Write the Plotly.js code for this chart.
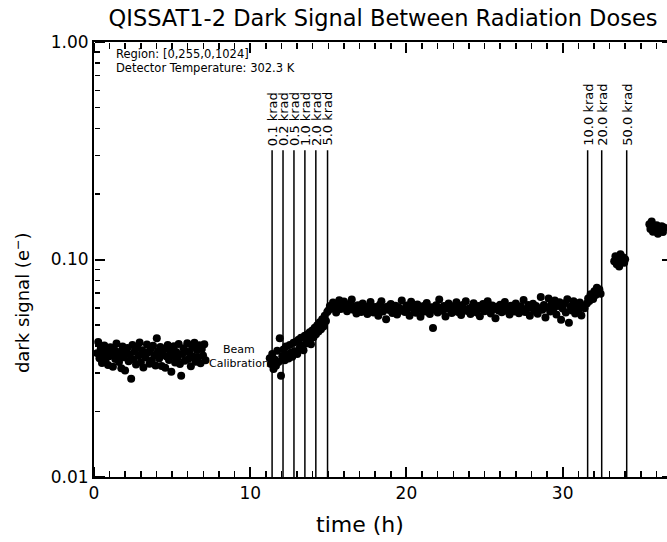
<!DOCTYPE html>
<html>
<head>
<meta charset="utf-8">
<script src="https://cdn.plot.ly/plotly-3.0.1.min.js"></script>
<style>html,body{margin:0;padding:0;overflow:hidden;background:#fff;}</style>
</head>
<body>
<div id="chart"></div>
<script>
// ---- data ----
const seg1T = [0.20,0.27,0.35,0.43,0.51,0.58,0.66,0.74,0.82,0.90,
0.97,1.05,1.13,1.21,1.29,1.36,1.44,1.52,1.60,1.68,
1.75,1.83,1.91,1.99,2.07,2.14,2.22,2.30,2.38,2.46,
2.53,2.61,2.69,2.77,2.85,2.92,3.00,3.08,3.16,3.24,
3.31,3.39,3.47,3.55,3.63,3.70,3.78,3.86,3.94,4.02,
4.09,4.17,4.25,4.33,4.41,4.48,4.56,4.64,4.72,4.80,
4.87,4.95,5.03,5.11,5.19,5.26,5.34,5.42,5.50,5.58,
5.65,5.73,5.81,5.89,5.97,6.04,6.12,6.20,6.28,6.36,
6.43,6.51,6.59,6.67,6.75,6.82,6.90,6.98,7.06,7.14];
const seg1V = [0.0371,0.0418,0.0352,0.0389,0.0334,0.0365,0.0402,0.0346,0.0381,0.0327,
0.0359,0.0395,0.0372,0.0321,0.0386,0.0349,0.0411,0.0363,0.0338,0.0377,
0.0316,0.0398,0.0355,0.0309,0.0374,0.0392,0.0341,0.0366,0.0283,0.0404,
0.0348,0.0379,0.0329,0.0393,0.0361,0.0415,0.0337,0.0383,0.0319,0.0369,
0.0354,0.0407,0.0375,0.0332,0.0388,0.0343,0.0401,0.0362,0.0326,0.0434,
0.0378,0.0351,0.0396,0.0324,0.0367,0.0387,0.0318,0.0358,0.0405,0.0345,
0.0382,0.0305,0.0361,0.0399,0.0336,0.0376,0.0353,0.0409,0.0331,0.0292,
0.0368,0.0391,0.0342,0.0379,0.0412,0.0349,0.0373,0.0323,0.0397,0.0357,
0.0414,0.0339,0.0384,0.0356,0.0403,0.0333,0.0388,0.0362,0.0408,0.0344];

const seg2T = [11.25,11.33,11.41,11.49,11.57,11.65,11.73,11.81,11.89,11.97,
12.05,12.13,12.21,12.29,12.37,12.45,12.53,12.61,12.69,12.77,
12.85,12.93,13.01,13.09,13.17,13.25,13.33,13.41,13.49,13.57,
13.65,13.73,13.81,13.89,13.97,14.05,14.13,14.21,14.29,14.37,
14.45,14.53,14.61,14.69,14.77,14.85,14.93];
const seg2V = [0.0352,0.0331,0.0368,0.0314,0.0347,0.0325,0.0381,0.0338,0.0435,0.0292,
0.0359,0.0386,0.0344,0.0398,0.0367,0.0351,0.0405,0.0373,0.0357,0.0414,
0.0379,0.0419,0.0368,0.0428,0.0392,0.0437,0.0401,0.0383,0.0446,0.0411,
0.0452,0.0424,0.0463,0.0408,0.0471,0.0439,0.0486,0.0453,0.0498,0.0467,
0.0515,0.0478,0.0531,0.0492,0.0552,0.0521,0.0574];

const seg3T = [15.0,15.1,15.2,15.3,15.4,15.5,15.6,15.7,15.8,15.9,
16.0,16.1,16.2,16.3,16.4,16.5,16.6,16.7,16.8,16.9,
17.0,17.1,17.2,17.3,17.4,17.5,17.6,17.7,17.8,17.9,
18.0,18.1,18.2,18.3,18.4,18.5,18.6,18.7,18.8,18.9,
19.0,19.1,19.2,19.3,19.4,19.5,19.6,19.7,19.8,19.9,
20.0,20.1,20.2,20.3,20.4,20.5,20.6,20.7,20.8,20.9,
21.0,21.1,21.2,21.3,21.4,21.5,21.6,21.7,21.8,21.9,
22.0,22.1,22.2,22.3,22.4,22.5,22.6,22.7,22.8,22.9,
23.0,23.1,23.2,23.3,23.4,23.5,23.6,23.7,23.8,23.9,
24.0,24.1,24.2,24.3,24.4,24.5,24.6,24.7,24.8,24.9,
25.0,25.1,25.2,25.3,25.4,25.5,25.6,25.7,25.8,25.9,
26.0,26.1,26.2,26.3,26.4,26.5,26.6,26.7,26.8,26.9,
27.0,27.1,27.2,27.3,27.4,27.5,27.6,27.7,27.8,27.9,
28.0,28.1,28.2,28.3,28.4,28.5,28.6,28.7,28.8,28.9,
29.0,29.1,29.2,29.3,29.4,29.5,29.6,29.7,29.8,29.9,
30.0,30.1,30.2,30.3,30.4,30.5,30.6,30.7,30.8,30.9,
31.0,31.1,31.2,31.3,31.4];
const seg3V = [0.0583,0.0612,0.0597,0.0634,0.0605,0.0571,0.0626,0.0649,0.0592,0.0618,
0.0641,0.0601,0.0578,0.0623,0.0596,0.0655,0.0587,0.0609,0.0564,0.0616,
0.0593,0.0574,0.0628,0.0601,0.0585,0.0562,0.0611,0.0637,0.0596,0.0571,
0.0604,0.0589,0.0552,0.0619,0.0643,0.0577,0.0598,0.0531,0.0608,0.0586,
0.0625,0.0567,0.0594,0.0613,0.0558,0.0601,0.0582,0.0648,0.0591,0.0573,
0.0614,0.0596,0.0551,0.0639,0.0605,0.0583,0.0569,0.0621,0.0599,0.0545,
0.0587,0.0612,0.0576,0.0631,0.0594,0.0562,0.0603,0.0484,0.0588,0.0616,
0.0571,0.0654,0.0598,0.0582,0.0611,0.0547,0.0593,0.0627,0.0604,0.0568,
0.0609,0.0585,0.0636,0.0574,0.0597,0.0556,0.0618,0.0589,0.0642,0.0579,
0.0594,0.0561,0.0607,0.0629,0.0583,0.0571,0.0612,0.0548,0.0596,0.0624,
0.0578,0.0601,0.0643,0.0589,0.0565,0.0614,0.0592,0.0537,0.0606,0.0583,
0.0619,0.0572,0.0595,0.0638,0.0581,0.0604,0.0558,0.0613,0.0591,0.0576,
0.0628,0.0597,0.0566,0.0609,0.0585,0.0651,0.0573,0.0594,0.0617,0.0552,
0.0598,0.0626,0.0579,0.0612,0.0563,0.0595,0.0673,0.0587,0.0618,0.0541,
0.0603,0.0661,0.0577,0.0624,0.0592,0.0648,0.0559,0.0611,0.0636,0.0529,
0.0596,0.0628,0.0571,0.0657,0.0512,0.0608,0.0583,0.0642,0.0565,0.0619,
0.0581,0.0634,0.0553,0.0611,0.0597];

const seg4T = [31.55,31.63,31.71,31.79,31.87,31.95,32.03,32.11,32.19,32.27,32.35,32.43];
const seg4V = [0.0628,0.0661,0.0645,0.0692,0.0673,0.0658,0.0714,0.0686,0.0741,0.0702,0.0728,0.0695];

const seg5T = [33.30,33.38,33.46,33.54,33.62,33.70,33.78,33.86,33.94,34.00];
const seg5V = [0.0982,0.1035,0.0951,0.1012,0.0928,0.1058,0.0995,0.1024,0.0967,0.1003];

const seg6T = [35.55,35.62,35.70,35.78,35.86,35.94,36.02,36.10,36.18,36.26,36.34,36.42,36.50];
const seg6V = [0.1452,0.1381,0.1497,0.1342,0.1418,0.1365,0.1436,0.1312,0.1394,0.1358,0.1421,0.1337,0.1402];

const doseT = [11.4, 12.1, 12.8, 13.5, 14.2, 14.95, 31.6, 32.5, 34.1];
const doseLabels = ['0.1 krad','0.2 krad','0.5 krad','1.0 krad','2.0 krad','5.0 krad','10.0 krad','20.0 krad','50.0 krad'];

const yTickVals = [0.01, 0.1, 1.0];
const yTickText = ['0.01', '0.10', '1.00'];
const yMinorVals = [0.02,0.03,0.04,0.05,0.06,0.07,0.08,0.09,0.2,0.3,0.4,0.5,0.6,0.7,0.8,0.9];

const titleText = 'QISSAT1-2 Dark Signal Between Radiation Doses';
const xTitleText = 'time (h)';
const yTitleText = 'dark signal (e<sup>−</sup>)';
const infoLines = ['Region: [0,255,0,1024]', 'Detector Temperature: 302.3 K'];
const beamText = 'Beam<br>Calibration';
const beamPos = {t: 9.3, v: 0.0357};

// ---- build ----
const xRange = [0, 37], yRange = [-2, 0];
const lineTop = 0.318, lineBottom = 0.01;
const traces = [];
doseT.forEach(function (t) {
  traces.push({x: [t, t], y: [lineBottom, lineTop], mode: 'lines', type: 'scatter',
    line: {color: 'black', width: 1.5}, hoverinfo: 'skip', showlegend: false});
});
const allT = [].concat(seg1T, seg2T, seg3T, seg4T, seg5T, seg6T);
const allV = [].concat(seg1V, seg2V, seg3V, seg4V, seg5V, seg6V);
traces.push({x: allT, y: allV, mode: 'markers', type: 'scatter',
  marker: {color: 'black', size: 8}, showlegend: false});
// empty traces that carry the inward-pointing tick axes
traces.push({x: [], y: [], xaxis: 'x2', yaxis: 'y2', type: 'scatter', mode: 'markers', showlegend: false, hoverinfo: 'skip'});
traces.push({x: [], y: [], xaxis: 'x3', yaxis: 'y3', type: 'scatter', mode: 'markers', showlegend: false, hoverinfo: 'skip'});

const annotations = [];
doseT.forEach(function (t, i) {
  annotations.push({x: t, y: Math.log10(lineTop) + 0.01, xref: 'x', yref: 'y',
    text: doseLabels[i], showarrow: false, textangle: -90,
    xanchor: 'center', yanchor: 'bottom', font: {size: 13, color: 'black'}});
});
annotations.push({x: 1.31, y: -0.055, xref: 'x', yref: 'y', text: infoLines[0],
  showarrow: false, xanchor: 'left', yanchor: 'middle', font: {size: 11.5}});
annotations.push({x: 1.31, y: -0.120, xref: 'x', yref: 'y', text: infoLines[1],
  showarrow: false, xanchor: 'left', yanchor: 'middle', font: {size: 11.5}});
annotations.push({x: beamPos.t, y: Math.log10(beamPos.v), xref: 'x', yref: 'y', text: beamText,
  showarrow: false, xanchor: 'center', yanchor: 'middle', align: 'center', font: {size: 11}});
annotations.push({x: 0.46, y: -0.110, xref: 'paper', yref: 'paper', text: xTitleText,
  showarrow: false, xanchor: 'center', yanchor: 'middle', font: {size: 22}});
annotations.push({x: -0.1246, y: 0.402, xref: 'paper', yref: 'paper', text: yTitleText,
  showarrow: false, textangle: -90, xanchor: 'center', yanchor: 'middle', font: {size: 18}});

function xTickAxis(pos, side) {
  return {overlaying: 'x', anchor: 'free', position: pos, side: side, range: xRange,
    tickmode: 'linear', tick0: 0, dtick: 10, ticks: 'outside', ticklen: 10, tickwidth: 2, tickcolor: '#000',
    minor: {ticks: 'outside', ticklen: 6, tickmode: 'linear', tick0: 0, dtick: 1, tickwidth: 1.5, tickcolor: '#000', showgrid: false},
    showticklabels: false, showline: false, showgrid: false, zeroline: false};
}
function yTickAxis(pos, side) {
  return {overlaying: 'y', anchor: 'free', position: pos, side: side, type: 'log', range: yRange,
    tickmode: 'array', tickvals: yTickVals, ticks: 'outside', ticklen: 10, tickwidth: 2, tickcolor: '#000',
    minor: {ticks: 'outside', ticklen: 5, tickmode: 'array', tickvals: yMinorVals, tickwidth: 1.5, tickcolor: '#000', showgrid: false},
    showticklabels: false, showline: false, showgrid: false, zeroline: false};
}

const layout = {
  width: 700, height: 542,
  margin: {l: 94, r: 28, t: 42, b: 65},
  paper_bgcolor: 'white', plot_bgcolor: 'white',
  font: {family: 'DejaVu Sans', color: 'black'},
  title: {text: titleText, font: {size: 22.5, color: 'black'}, x: 0.5, xref: 'paper',
    xanchor: 'center', y: 0.967, yref: 'container', yanchor: 'middle'},
  xaxis: {
    range: xRange, tickmode: 'linear', tick0: 0, dtick: 10, ticks: '',
    showline: true, linewidth: 2, linecolor: '#000', mirror: true,
    showgrid: false, zeroline: false, tickfont: {size: 17, color: 'black'}
  },
  yaxis: {
    type: 'log', range: yRange, tickmode: 'array', tickvals: yTickVals, ticktext: yTickText, ticks: '',
    showline: true, linewidth: 2, linecolor: '#000', mirror: true,
    showgrid: false, zeroline: false, tickfont: {size: 17, color: 'black'}
  },
  xaxis2: xTickAxis(0, 'top'),
  xaxis3: xTickAxis(1, 'bottom'),
  yaxis2: yTickAxis(0, 'right'),
  yaxis3: yTickAxis(1, 'left'),
  annotations: annotations,
  showlegend: false
};

Plotly.newPlot('chart', traces, layout, {displayModeBar: false, staticPlot: true});
</script>
</body>
</html>
